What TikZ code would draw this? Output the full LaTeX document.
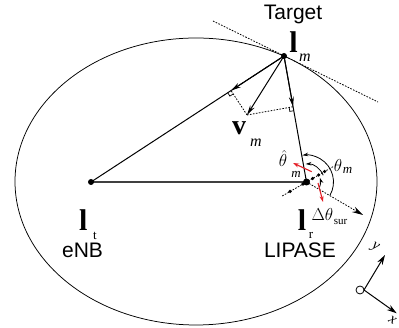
\documentclass[tikz,border=0pt]{standalone}
\usepackage{fontspec}
\setmainfont{Liberation Serif}
\newfontfamily\sansf{Liberation Sans}
\usetikzlibrary{calc,arrows.meta}
\definecolor{redarr}{RGB}{228,30,38}
\begin{document}
\begin{tikzpicture}[x=1pt,y=1pt,
  every node/.style={inner sep=0pt, outer sep=0pt},
  sanslbl/.style={font=\sansf\fontsize{21}{21}\selectfont},
  boldl/.style={font=\fontsize{30}{30}\selectfont\bfseries},
  boldv/.style={font=\fontsize{28}{28}\selectfont\bfseries},
  subm/.style={font=\fontsize{16}{16}\selectfont\itshape},
  subsm/.style={font=\fontsize{13}{13}\selectfont\itshape},
  subup/.style={font=\fontsize{13}{13}\selectfont},
  greek/.style={font=\fontsize{17}{17}\selectfont},
  axlbl/.style={font=\fontsize{15}{15}\selectfont\itshape, rotate=-30},
  mainline/.style={line width=1pt},
  arr/.style={line width=1pt,-{Stealth[length=10pt,width=5pt]}},
  arcarr/.style={line width=0.8pt,-{Stealth[length=6pt,width=3.5pt]}},
  redvec/.style={line width=1.1pt, draw=redarr, -{Stealth[length=6pt,width=4pt]}, redarr},
  fine/.style={line width=0.8pt, dash pattern=on 1.6pt off 1.4pt},
  perp/.style={line width=0.7pt},
]
\useasboundingbox (0,0) rectangle (399,328);

% key points
\coordinate (lt) at (91,146);
\coordinate (lr) at (306.5,146);
\coordinate (lm) at (284,272);
\coordinate (v) at (247,213);
\coordinate (tanA) at (213,307);
\coordinate (tanB) at (378,226);

% bistatic ellipse
\draw[line width=0.75pt] (196,146.5) ellipse [x radius=181pt, y radius=143.5pt];

% tangent
\draw[fine] (tanA) -- (tanB);

% triangle
\draw[line width=1.4pt, black!75] (lt) -- (lr);
\draw[mainline] (lt) -- (lm);
\draw[mainline] (lm) -- (lr);

% projections
\coordinate (f1) at ($(lm)!(v)!(lt)$);
\coordinate (f2) at ($(lm)!(v)!(lr)$);
\draw[arr] (lm) -- (f1);
\draw[arr] (lm) -- (v);
\draw[arr] (lm) -- (f2);
\draw[fine] (v) -- (f1);
\draw[fine] (v) -- (f2);
\coordinate (a1) at ($(f1)!4pt!(lt)$);
\coordinate (b1) at ($(f1)!4pt!(v)$);
\coordinate (c1) at ($(a1)+(b1)-(f1)$);
\draw[perp] (a1) -- (c1) -- (b1);
\coordinate (a2) at ($(f2)!4pt!(lr)$);
\coordinate (b2) at ($(f2)!4pt!(v)$);
\coordinate (c2) at ($(a2)+(b2)-(f2)$);
\draw[perp] (a2) -- (c2) -- (b2);

% array axis and normal
\coordinate (axA) at ($(lr)+(210:28pt)$);
\coordinate (axB) at ($(lr)+(30:32pt)$);
\coordinate (xdir) at (363,113);
\draw[fine] (axA) -- (axB);
\draw[fine, -{Stealth[length=11pt,width=6pt]}] (lr) -- (xdir);
\foreach \t in {-19,-4,7,14,21}{
  \fill ($(lr)+(30:\t pt)$) circle (1.8pt);
}

% angle arcs
\draw[arcarr] ($(lr)+(-30:27pt)$) arc[start angle=-30, end angle=99, radius=27pt];
\draw[arcarr] ($(lr)+(22:18pt)$) arc[start angle=22, end angle=93, radius=18pt];
\draw[arcarr] ($(lr)+(-22:14pt)$) arc[start angle=-22, end angle=18, radius=14pt];

% red unit vectors
\coordinate (r1s) at (311.7,156.3);
\coordinate (r1e) at (293,165);
\coordinate (r2s) at (318,145);
\coordinate (r2e) at (323,126);
\draw[redvec] (r1s) -- (r1e);
\draw[redvec] (r2s) -- (r2e);

% dots
\fill (lt) circle (3pt);
\fill (lm) circle (3pt);
\fill (lr) circle (3.5pt);

% labels
\node[sanslbl, anchor=base] (tgt) at (293,308) {Target};
\node[boldl] (lmL) at (293.5,285.5) {l};
\node[subm] (lmS) at (305,270) {m};
\node[boldv] (vL) at (239,200) {v};
\node[subm] (vS) at (256,185) {m};
\node[boldl] (ltL) at (83.3,108) {l};
\node[subup] (ltS) at (95,92.5) {t};
\node[sanslbl, anchor=base] (enb) at (82.5,70.5) {eNB};
\node[boldl] (lrL) at (302,108) {l};
\node[subup] (lrS) at (311,93) {r};
\node[sanslbl, anchor=base] (lip) at (300,70.5) {LIPASE};
\node[greek] (thh) at (283,169.5) {$\hat{\theta}$};
\node[subsm] (thhS) at (296,153.5) {m};
\node[greek] (th) at (338,162) {$\theta$};
\node[subsm] (thS) at (347.5,157.5) {m};
\node[greek] (dth) at (322.5,113) {$\Delta\theta$};
\node[font=\fontsize{11}{11}\selectfont] (sur) at (340.5,106.5) {sur};

% reference frame
\node[draw, circle, line width=0.8pt, minimum size=8pt] (O) at (360,38) {};
\coordinate (ytip) at (385,73);
\coordinate (xtip) at (396.7,14.7);
\draw[line width=1pt, -{Stealth[length=10pt,width=6pt]}] (O.east) -- (ytip);
\draw[line width=1pt, -{Stealth[length=10pt,width=6pt]}] (O.east) -- (xtip);
\node[axlbl] (ylab) at (375,80) {y};
\node[axlbl] (xlab) at (392.5,8) {x};
\end{tikzpicture}
\end{document}
